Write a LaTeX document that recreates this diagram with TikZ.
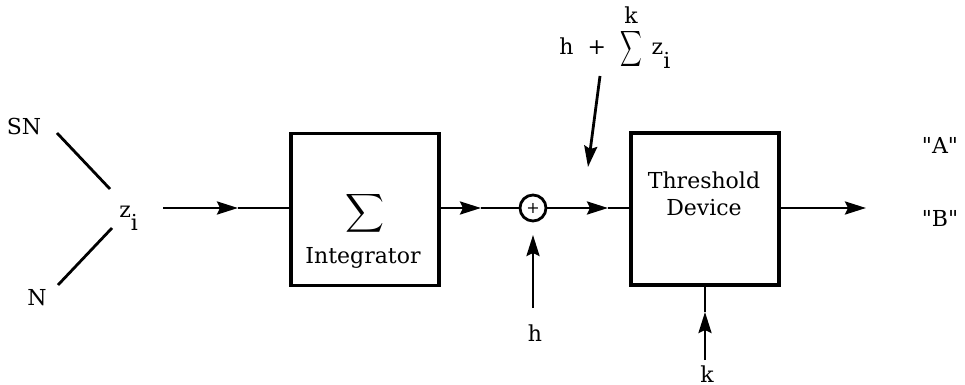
\documentclass[tikz,border=0pt]{standalone}
\usepackage{fontspec}
\setmainfont{DejaVu Serif}
\newfontfamily\qfont{DejaVu Serif}[Ligatures=TeXOff]
\usetikzlibrary{arrows.meta}
\begin{document}
\begin{tikzpicture}[x=0.5pt,y=-0.5pt, line width=1.4pt,
  tri/.style={-{Stealth[length=10.5pt,width=6.5pt,inset=1.5pt]}},
  blk/.style={draw, line width=1.6pt, minimum width=74pt, minimum height=76pt, inner sep=0pt},
  txt/.style={inner sep=0pt, font=\fontsize{11}{13}\selectfont}]
\useasboundingbox (0,0) rectangle (965,385);
% inputs
\node[txt] (SN) at (24,126) {SN};
\node[txt] (N) at (37,298) {N};
\node[txt,anchor=base west] (zi) at (118,218) {z\raisebox{-6pt}{i}};
\coordinate (sn1) at (57,133);
\coordinate (sn2) at (110,189);
\coordinate (n1) at (112,228);
\coordinate (n2) at (58,285);
\draw (sn1) -- (sn2);
\draw (n1) -- (n2);
% integrator
\node[blk] (integ) at (365,209.5) {};
\node[txt] (sig) at (365,213) {\scalebox{1.35}{$\displaystyle\sum$}};
\node[txt] (intl) at (363,258) {Integrator};
\coordinate (a1s) at (163,208);
\coordinate (a1t) at (238,208);
\draw[tri] (a1s) -- (a1t);
\draw (a1t) -- (integ.west |- a1t);
% summing junction
\node[draw, circle, minimum size=13pt, inner sep=0pt, line width=1.4pt, font=\footnotesize] (sum) at (533,208) {+};
\coordinate (a2t) at (481,208);
\draw[tri] (integ.east |- a2t) -- (a2t);
\draw (a2t) -- (sum.west);
% threshold device
\node[blk] (thr) at (705,209) {};
\node[txt] (thr1) at (704,180) {Threshold};
\node[txt] (thr2) at (704,208) {Device};
\coordinate (a3t) at (608,208);
\draw[tri] (sum.east) -- (a3t);
\draw (a3t) -- (thr.west |- a3t);
\coordinate (out) at (866,208);
\draw[tri] (thr.east |- out) -- (out);
% h input
\node[txt] (h) at (535,333) {h};
\coordinate (hs) at (533,308);
\coordinate (ht) at (533,235);
\draw[tri] (hs) -- (ht);
% k input
\node[txt] (k) at (707,374) {k};
\coordinate (ks) at (705,360);
\coordinate (kt) at (705,312);
\draw[tri] (ks) -- (kt);
\draw (kt) -- (thr.south);
% label
\node[txt,anchor=base west] (lab) at (558,55) {h\hspace{7pt}+\hspace{7pt}\raisebox{-0.5pt}{\scalebox{0.75}[1.25]{$\displaystyle\sum$}}\hspace{5pt}z\raisebox{-7pt}{i}};
\node[txt] (labk) at (631,15) {k};
\coordinate (ds) at (600,76);
\coordinate (dt) at (588,167);
\draw[tri] (ds) -- (dt);
% outputs
\node[txt] (A) at (940,145) {\qfont"A"};
\node[txt] (B) at (940,218) {\qfont"B"};
\end{tikzpicture}
\end{document}
